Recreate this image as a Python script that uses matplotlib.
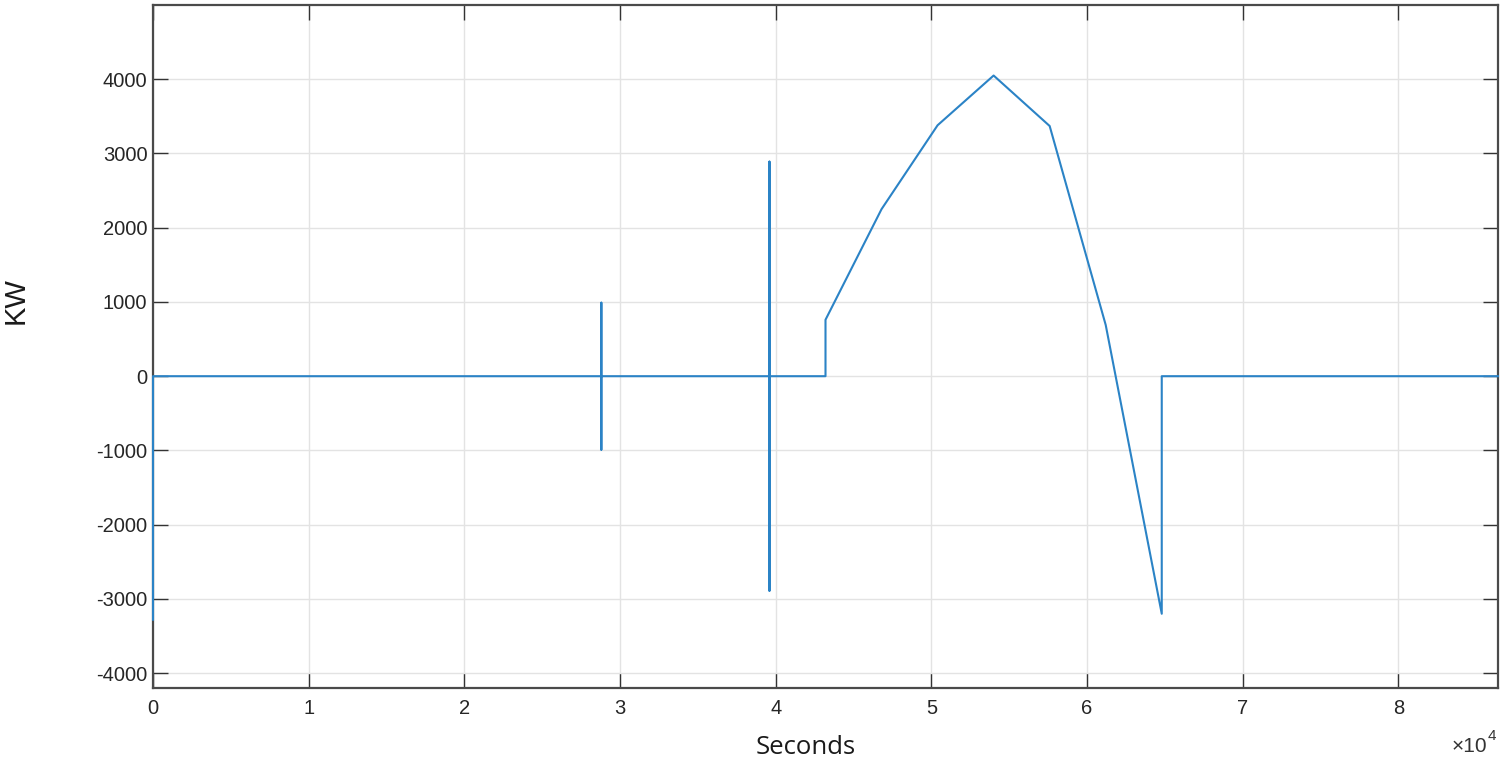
import matplotlib
matplotlib.use("Agg")
import matplotlib.pyplot as plt
import numpy as np

# power profile over one day (seconds, kW)
time_s = [0, 0, 28800, 28800, 28800, 28800, 39600, 39600, 39600, 39600,
          43200, 43200, 46800, 50400, 54000, 57600, 61200, 64800, 64800, 86400]
power_kw = [-3280, 0, 0, 990, -990, 0, 0, 2890, -2890, 0,
            0, 760, 2250, 3380, 4050, 3370, 690, -3200, 0, 0]

x_ticks = [0, 10000, 20000, 30000, 40000, 50000, 60000, 70000, 80000]
x_tick_labels = ["0", "1", "2", "3", "4", "5", "6", "7", "8"]
y_ticks = [-4000, -3000, -2000, -1000, 0, 1000, 2000, 3000, 4000]

W, H = 1502, 763
fig = plt.figure(figsize=(W / 100, H / 100), dpi=100)
ax = fig.add_axes([153 / W, 1 - 688 / H, (1498 - 153) / W, (688 - 5) / H])

ax.plot(time_s, power_kw, color="#2b83c6", lw=1.5, zorder=3, clip_on=False)

ax.set_xlim(0, 86400)
ax.set_ylim(-4200, 5000)
ax.set_xticks(x_ticks)
ax.set_xticklabels(x_tick_labels)
ax.set_yticks(y_ticks)
ax.set_yticklabels([str(v) for v in y_ticks])

ax.grid(True, color="#e3e3e3", lw=1.0)
ax.set_axisbelow(True)
for s in ax.spines.values():
    s.set_color("#4a4a4a")
    s.set_linewidth(1.6)

ax.tick_params(direction="in", length=11, width=1.0, color="#333333",
               top=True, right=True, labelsize=14.5, labelcolor="#262626")
ax.tick_params(axis="y", pad=4)
ax.tick_params(axis="x", pad=8)
for lab in ax.get_xticklabels() + ax.get_yticklabels():
    lab.set_fontfamily("Liberation Sans")

fig.text(16 / W, 1 - 301 / H, "KW", rotation=90, ha="center", va="center",
         fontsize=21, family="Liberation Sans", color="#1a1a1a")
fig.text(806 / W, 1 - 747 / H, "Seconds", ha="center", va="center",
         fontsize=18.5, family="Open Sans", color="#1a1a1a")
fig.text(1487 / W, 1 - 746 / H, "×10", ha="right", va="center",
         fontsize=15, family="Liberation Sans", color="#333333")
fig.text(1488 / W, 1 - 736 / H, "4", ha="left", va="center",
         fontsize=11, family="Liberation Sans", color="#333333")

fig.savefig("out.png", dpi=100, facecolor="white")
